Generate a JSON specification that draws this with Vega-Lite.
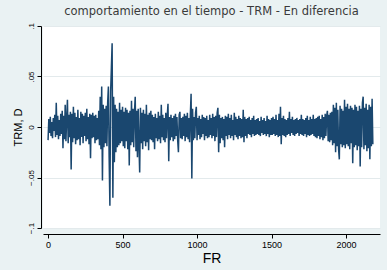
{
  "$schema": "https://vega.github.io/schema/vega-lite/v6.json",
  "width": 337,
  "height": 202,
  "autosize": {"type": "none"},
  "padding": {"left": 43, "top": 26, "right": 7, "bottom": 42},
  "background": "#eaf2f3",
  "title": {"text": "comportamiento en el tiempo - TRM - En diferencia", "font": "DejaVu Sans", "fontSize": 11.5, "fontWeight": "normal", "color": "#3a3a3a", "offset": 5, "anchor": "middle"},
  "config": {"view": {"fill": "white", "stroke": null}},
  "data": {"values": [
{"t":0,"v":-0.013},{"t":5,"v":0.008},{"t":10,"v":-0.006},{"t":15,"v":0.010},{"t":20,"v":-0.009},{"t":25,"v":0.005},{"t":30,"v":-0.011},{"t":35,"v":0.009},{"t":40,"v":-0.004},{"t":45,"v":0.012},{"t":50,"v":-0.010},{"t":55,"v":0.024},{"t":60,"v":-0.008},{"t":65,"v":0.011},{"t":70,"v":-0.012},{"t":75,"v":0.007},{"t":80,"v":-0.009},{"t":85,"v":0.013},{"t":90,"v":-0.007},{"t":95,"v":0.016},
{"t":100,"v":-0.021},{"t":105,"v":0.011},{"t":110,"v":-0.012},{"t":115,"v":0.022},{"t":120,"v":-0.014},{"t":125,"v":0.009},{"t":130,"v":0.027},{"t":135,"v":-0.016},{"t":140,"v":0.012},{"t":145,"v":-0.010},{"t":150,"v":0.015},{"t":155,"v":-0.042},{"t":160,"v":0.013},{"t":165,"v":-0.015},{"t":170,"v":0.020},{"t":175,"v":-0.011},{"t":180,"v":0.014},{"t":185,"v":-0.017},{"t":190,"v":0.010},{"t":195,"v":-0.013},
{"t":200,"v":0.017},{"t":205,"v":-0.012},{"t":210,"v":0.009},{"t":215,"v":-0.018},{"t":220,"v":0.015},{"t":225,"v":-0.010},{"t":230,"v":0.013},{"t":235,"v":-0.016},{"t":240,"v":0.011},{"t":245,"v":-0.009},{"t":250,"v":0.014},{"t":255,"v":-0.014},{"t":260,"v":0.018},{"t":265,"v":-0.012},{"t":270,"v":0.010},{"t":275,"v":-0.017},{"t":280,"v":0.013},{"t":285,"v":-0.031},{"t":290,"v":0.012},{"t":295,"v":-0.011},
{"t":300,"v":0.014},{"t":305,"v":-0.010},{"t":310,"v":0.011},{"t":315,"v":-0.016},{"t":320,"v":0.012},{"t":325,"v":-0.013},{"t":330,"v":0.009},{"t":335,"v":-0.012},{"t":340,"v":0.016},{"t":345,"v":-0.018},{"t":350,"v":0.030},{"t":355,"v":-0.022},{"t":360,"v":0.040},{"t":365,"v":-0.053},{"t":370,"v":0.022},{"t":375,"v":-0.020},{"t":380,"v":0.018},{"t":385,"v":-0.016},{"t":390,"v":0.021},{"t":395,"v":-0.019},
{"t":400,"v":0.024},{"t":405,"v":0.040},{"t":410,"v":-0.030},{"t":415,"v":-0.078},{"t":420,"v":0.035},{"t":425,"v":0.059},{"t":430,"v":0.083},{"t":435,"v":-0.070},{"t":440,"v":0.030},{"t":445,"v":-0.035},{"t":450,"v":0.022},{"t":455,"v":-0.025},{"t":460,"v":0.018},{"t":465,"v":-0.020},{"t":470,"v":0.015},{"t":475,"v":-0.018},{"t":480,"v":0.024},{"t":485,"v":-0.016},{"t":490,"v":0.017},{"t":495,"v":-0.014},
{"t":500,"v":0.020},{"t":505,"v":-0.019},{"t":510,"v":0.015},{"t":515,"v":-0.021},{"t":520,"v":0.019},{"t":525,"v":-0.014},{"t":530,"v":0.017},{"t":535,"v":-0.022},{"t":540,"v":0.014},{"t":545,"v":-0.038},{"t":550,"v":0.016},{"t":555,"v":-0.018},{"t":560,"v":0.026},{"t":565,"v":-0.015},{"t":570,"v":0.018},{"t":575,"v":-0.020},{"t":580,"v":0.015},{"t":585,"v":0.030},{"t":590,"v":-0.024},{"t":595,"v":0.016},
{"t":600,"v":-0.030},{"t":605,"v":0.018},{"t":610,"v":-0.017},{"t":615,"v":-0.045},{"t":620,"v":0.019},{"t":625,"v":-0.016},{"t":630,"v":0.014},{"t":635,"v":-0.022},{"t":640,"v":0.017},{"t":645,"v":-0.014},{"t":650,"v":0.013},{"t":655,"v":-0.019},{"t":660,"v":0.022},{"t":665,"v":-0.015},{"t":670,"v":0.012},{"t":675,"v":-0.023},{"t":680,"v":0.014},{"t":685,"v":-0.012},{"t":690,"v":0.016},{"t":695,"v":-0.013},
{"t":700,"v":0.012},{"t":705,"v":-0.015},{"t":710,"v":0.010},{"t":715,"v":-0.022},{"t":720,"v":0.013},{"t":725,"v":-0.011},{"t":730,"v":0.009},{"t":735,"v":-0.014},{"t":740,"v":0.015},{"t":745,"v":-0.012},{"t":750,"v":0.011},{"t":755,"v":-0.016},{"t":760,"v":0.022},{"t":765,"v":-0.010},{"t":770,"v":0.012},{"t":775,"v":-0.013},{"t":780,"v":0.009},{"t":785,"v":-0.015},{"t":790,"v":0.014},{"t":795,"v":-0.011},
{"t":800,"v":0.011},{"t":805,"v":0.023},{"t":810,"v":-0.034},{"t":815,"v":0.010},{"t":820,"v":-0.013},{"t":825,"v":0.012},{"t":830,"v":-0.010},{"t":835,"v":0.009},{"t":840,"v":-0.014},{"t":845,"v":0.011},{"t":850,"v":-0.012},{"t":855,"v":0.013},{"t":860,"v":-0.009},{"t":865,"v":0.010},{"t":870,"v":-0.013},{"t":875,"v":-0.025},{"t":880,"v":0.012},{"t":885,"v":0.015},{"t":890,"v":-0.011},{"t":895,"v":0.009},
{"t":900,"v":-0.012},{"t":905,"v":0.010},{"t":910,"v":-0.009},{"t":915,"v":0.013},{"t":920,"v":-0.014},{"t":925,"v":0.011},{"t":930,"v":-0.010},{"t":935,"v":0.014},{"t":940,"v":-0.012},{"t":945,"v":0.009},{"t":950,"v":-0.015},{"t":955,"v":0.012},{"t":960,"v":0.033},{"t":965,"v":-0.051},{"t":970,"v":0.018},{"t":975,"v":-0.013},{"t":980,"v":0.010},{"t":985,"v":-0.011},{"t":990,"v":0.014},{"t":995,"v":0.020},
{"t":1000,"v":-0.013},{"t":1005,"v":0.009},{"t":1010,"v":-0.008},{"t":1015,"v":0.011},{"t":1020,"v":-0.012},{"t":1025,"v":0.008},{"t":1030,"v":-0.010},{"t":1035,"v":0.012},{"t":1040,"v":-0.007},{"t":1045,"v":0.010},{"t":1050,"v":-0.013},{"t":1055,"v":0.009},{"t":1060,"v":-0.009},{"t":1065,"v":0.011},{"t":1070,"v":-0.011},{"t":1075,"v":0.007},{"t":1080,"v":-0.010},{"t":1085,"v":0.012},{"t":1090,"v":-0.008},{"t":1095,"v":0.009},
{"t":1100,"v":-0.011},{"t":1105,"v":0.013},{"t":1110,"v":-0.009},{"t":1115,"v":0.010},{"t":1120,"v":-0.014},{"t":1125,"v":0.011},{"t":1130,"v":-0.010},{"t":1135,"v":0.014},{"t":1140,"v":0.019},{"t":1145,"v":-0.025},{"t":1150,"v":0.012},{"t":1155,"v":-0.016},{"t":1160,"v":0.009},{"t":1165,"v":-0.011},{"t":1170,"v":0.010},{"t":1175,"v":-0.013},{"t":1180,"v":0.008},{"t":1185,"v":-0.020},{"t":1190,"v":0.011},{"t":1195,"v":-0.009},
{"t":1200,"v":0.010},{"t":1205,"v":-0.012},{"t":1210,"v":0.013},{"t":1215,"v":-0.008},{"t":1220,"v":0.009},{"t":1225,"v":-0.011},{"t":1230,"v":0.012},{"t":1235,"v":-0.009},{"t":1240,"v":0.007},{"t":1245,"v":-0.013},{"t":1250,"v":0.014},{"t":1255,"v":-0.008},{"t":1260,"v":0.010},{"t":1265,"v":-0.010},{"t":1270,"v":0.008},{"t":1275,"v":-0.012},{"t":1280,"v":0.011},{"t":1285,"v":-0.009},{"t":1290,"v":0.009},{"t":1295,"v":-0.011},
{"t":1300,"v":0.008},{"t":1305,"v":-0.010},{"t":1310,"v":0.017},{"t":1315,"v":-0.015},{"t":1320,"v":0.010},{"t":1325,"v":-0.009},{"t":1330,"v":0.008},{"t":1335,"v":-0.011},{"t":1340,"v":0.009},{"t":1345,"v":-0.007},{"t":1350,"v":0.010},{"t":1355,"v":-0.008},{"t":1360,"v":0.007},{"t":1365,"v":-0.010},{"t":1370,"v":0.009},{"t":1375,"v":-0.007},{"t":1380,"v":0.011},{"t":1385,"v":-0.009},{"t":1390,"v":0.007},{"t":1395,"v":-0.008},
{"t":1400,"v":0.008},{"t":1405,"v":-0.007},{"t":1410,"v":0.009},{"t":1415,"v":-0.008},{"t":1420,"v":0.006},{"t":1425,"v":-0.009},{"t":1430,"v":0.010},{"t":1435,"v":-0.006},{"t":1440,"v":0.007},{"t":1445,"v":-0.008},{"t":1450,"v":0.009},{"t":1455,"v":-0.007},{"t":1460,"v":0.006},{"t":1465,"v":-0.009},{"t":1470,"v":0.011},{"t":1475,"v":-0.007},{"t":1480,"v":0.008},{"t":1485,"v":-0.010},{"t":1490,"v":0.007},{"t":1495,"v":-0.008},
{"t":1500,"v":0.009},{"t":1505,"v":-0.008},{"t":1510,"v":0.010},{"t":1515,"v":-0.007},{"t":1520,"v":0.008},{"t":1525,"v":-0.009},{"t":1530,"v":0.012},{"t":1535,"v":-0.008},{"t":1540,"v":0.007},{"t":1545,"v":-0.010},{"t":1550,"v":0.013},{"t":1555,"v":-0.009},{"t":1560,"v":0.020},{"t":1565,"v":-0.017},{"t":1570,"v":0.009},{"t":1575,"v":-0.008},{"t":1580,"v":0.011},{"t":1585,"v":-0.009},{"t":1590,"v":0.008},{"t":1595,"v":-0.010},
{"t":1600,"v":0.007},{"t":1605,"v":-0.008},{"t":1610,"v":0.009},{"t":1615,"v":-0.007},{"t":1620,"v":0.015},{"t":1625,"v":-0.009},{"t":1630,"v":0.008},{"t":1635,"v":-0.006},{"t":1640,"v":0.010},{"t":1645,"v":-0.008},{"t":1650,"v":0.007},{"t":1655,"v":-0.009},{"t":1660,"v":0.008},{"t":1665,"v":-0.007},{"t":1670,"v":0.009},{"t":1675,"v":-0.006},{"t":1680,"v":0.007},{"t":1685,"v":-0.009},{"t":1690,"v":0.008},{"t":1695,"v":-0.007},
{"t":1700,"v":0.012},{"t":1705,"v":-0.008},{"t":1710,"v":0.008},{"t":1715,"v":-0.009},{"t":1720,"v":0.007},{"t":1725,"v":-0.007},{"t":1730,"v":0.009},{"t":1735,"v":-0.010},{"t":1740,"v":0.011},{"t":1745,"v":-0.008},{"t":1750,"v":0.007},{"t":1755,"v":-0.009},{"t":1760,"v":0.010},{"t":1765,"v":-0.008},{"t":1770,"v":0.008},{"t":1775,"v":-0.007},{"t":1780,"v":0.012},{"t":1785,"v":-0.009},{"t":1790,"v":0.008},{"t":1795,"v":-0.010},
{"t":1800,"v":0.009},{"t":1805,"v":-0.011},{"t":1810,"v":0.010},{"t":1815,"v":-0.009},{"t":1820,"v":0.011},{"t":1825,"v":-0.012},{"t":1830,"v":0.008},{"t":1835,"v":-0.010},{"t":1840,"v":0.012},{"t":1845,"v":-0.013},{"t":1850,"v":0.010},{"t":1855,"v":-0.011},{"t":1860,"v":0.013},{"t":1865,"v":-0.009},{"t":1870,"v":0.011},{"t":1875,"v":0.016},{"t":1880,"v":-0.014},{"t":1885,"v":0.012},{"t":1890,"v":-0.015},{"t":1895,"v":0.014},
{"t":1900,"v":-0.013},{"t":1905,"v":0.015},{"t":1910,"v":-0.018},{"t":1915,"v":0.022},{"t":1920,"v":-0.016},{"t":1925,"v":0.019},{"t":1930,"v":-0.025},{"t":1935,"v":0.024},{"t":1940,"v":-0.019},{"t":1945,"v":0.017},{"t":1950,"v":-0.022},{"t":1955,"v":-0.032},{"t":1960,"v":0.021},{"t":1965,"v":-0.017},{"t":1970,"v":0.018},{"t":1975,"v":-0.020},{"t":1980,"v":0.016},{"t":1985,"v":-0.018},{"t":1990,"v":0.027},{"t":1995,"v":-0.021},
{"t":2000,"v":0.020},{"t":2005,"v":-0.017},{"t":2010,"v":0.023},{"t":2015,"v":-0.019},{"t":2020,"v":0.018},{"t":2025,"v":-0.022},{"t":2030,"v":0.021},{"t":2035,"v":-0.016},{"t":2040,"v":0.019},{"t":2045,"v":-0.036},{"t":2050,"v":0.017},{"t":2055,"v":-0.020},{"t":2060,"v":0.022},{"t":2065,"v":-0.018},{"t":2070,"v":0.020},{"t":2075,"v":-0.023},{"t":2080,"v":0.016},{"t":2085,"v":-0.019},{"t":2090,"v":0.021},{"t":2095,"v":-0.039},
{"t":2100,"v":0.018},{"t":2105,"v":-0.020},{"t":2110,"v":0.024},{"t":2115,"v":0.030},{"t":2120,"v":-0.022},{"t":2125,"v":0.019},{"t":2130,"v":-0.018},{"t":2135,"v":0.023},{"t":2140,"v":-0.024},{"t":2145,"v":0.017},{"t":2150,"v":-0.021},{"t":2155,"v":0.022},{"t":2160,"v":-0.032},{"t":2165,"v":0.020},{"t":2170,"v":-0.019},{"t":2175,"v":0.028},{"t":2180,"v":-0.017}
  ]},
  "mark": {"type": "line", "color": "#1a476f", "strokeWidth": 1.5},
  "encoding": {
    "x": {"field": "t", "type": "quantitative", "title": "FR",
      "scale": {"domain": [-34, 2228], "nice": false, "zero": false},
      "axis": {"values": [0, 500, 1000, 1500, 2000], "format": "d", "grid": false, "offset": 6, "domainColor": "#000000", "tickColor": "#000000", "tickSize": 4, "labelFont": "Liberation Sans", "labelFontSize": 9, "labelColor": "#000000", "labelPadding": 2, "titleFont": "Liberation Sans", "titleFontSize": 14, "titleFontWeight": "normal", "titleColor": "#000000", "titlePadding": 2}},
    "y": {"field": "v", "type": "quantitative", "title": "TRM, D",
      "scale": {"domain": [-0.1, 0.1], "nice": false},
      "axis": {"values": [-0.1, -0.05, 0, 0.05, 0.1], "labelExpr": "replace(format(datum.value, '.2~f'), '0.', '.')", "grid": true, "gridColor": "#e3eaec", "offset": 2, "domainColor": "#000000", "tickColor": "#000000", "tickSize": 4, "labelAngle": -90, "labelAlign": "center", "labelBaseline": "bottom", "labelFont": "Liberation Sans", "labelFontSize": 8, "labelColor": "#000000", "labelPadding": 2, "titleFont": "Liberation Sans", "titleFontSize": 11, "titleFontWeight": "normal", "titleColor": "#000000", "titlePadding": 4}}
  }
}
